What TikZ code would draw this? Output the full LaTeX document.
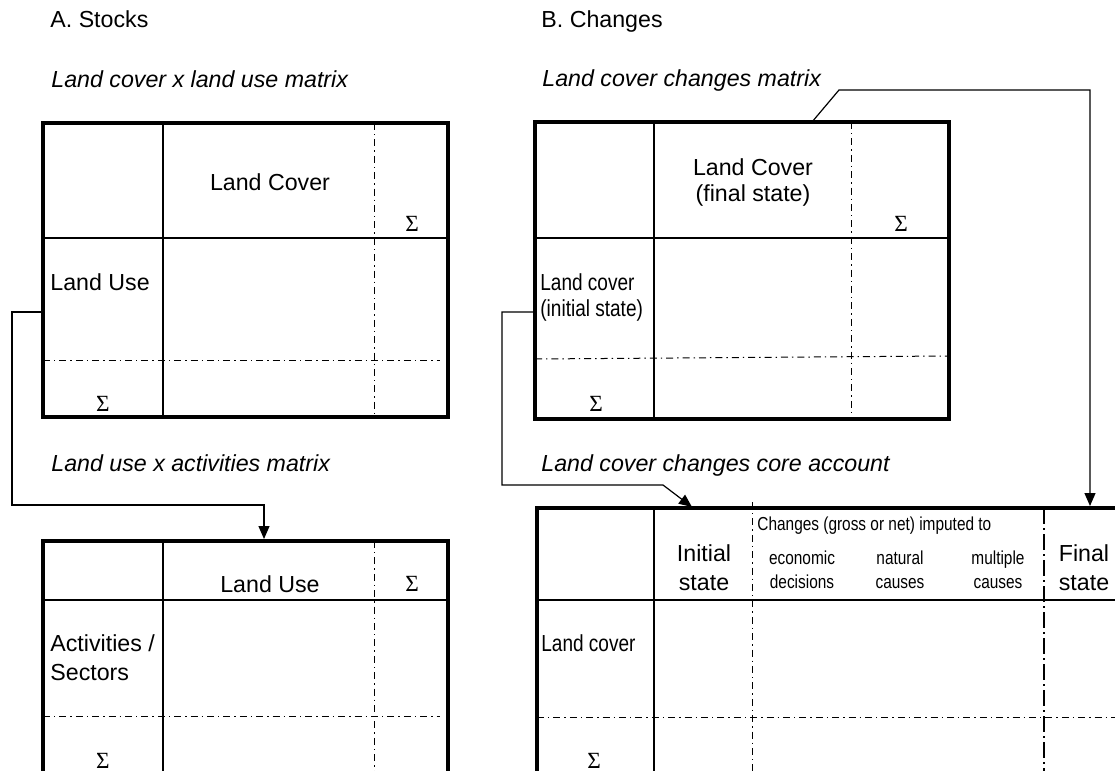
\documentclass[tikz,border=0pt]{standalone}
\usepackage{fontspec}
\setmainfont{Liberation Sans}
\newfontfamily\narrowfont[FakeStretch=0.82]{Liberation Sans}
\newfontfamily\sigmafont{Liberation Serif}
\usetikzlibrary{arrows.meta}
\tikzset{%
	frame/.style      = {line width=2pt, line join=miter},
	rule/.style       = {line width=1.3pt},
	dashdot/.style    = {line width=0.5pt, dash pattern=on 3.5pt off 2pt on 0.7pt off 2pt},
	longdashdot/.style= {line width=0.7pt, dash pattern=on 8pt off 2pt on 1pt off 2pt},
	link/.style       = {line width=0.6pt},
	arrow/.style      = {link, -{Triangle[width=5.5pt,length=6.5pt]}},
	headtxt/.style    = {anchor=base west, inner sep=0pt},
	captxt/.style     = {anchor=base west, inner sep=0pt, font=\fontsize{11.6}{13}\itshape},
	celltxt/.style    = {anchor=base, inner sep=0pt},
	narrowtxt/.style  = {anchor=base west, inner sep=0pt, font=\narrowfont\fontsize{11.6}{13}\selectfont},
	smalltxt/.style   = {anchor=base, inner sep=0pt, font=\narrowfont\fontsize{9.4}{11}\selectfont},
	sumtxt/.style     = {anchor=base, inner sep=0pt, font=\sigmafont\fontsize{11.6}{13}\selectfont},
}
\begin{document}
\begin{tikzpicture}[x=0.5pt,y=-0.5pt,font=\fontsize{11.6}{13}\selectfont]
	\useasboundingbox (0,0) rectangle (1115,771);
	% headings and captions
	\node[headtxt] (hStocks) at (50,27) {A. Stocks};
	\node[headtxt] (hChanges) at (541,27) {B. Changes};
	\node[captxt] (cCoverUse) at (51,87) {Land cover x land use matrix};
	\node[captxt] (cCoverChg) at (542,86) {Land cover changes matrix};
	\node[captxt] (cUseAct) at (51,471) {Land use x activities matrix};
	\node[captxt] (cCore) at (541,471) {Land cover changes core account};
	
	% land cover x land use matrix
	\draw[dashdot] (374,123) -- (374,417);
	\draw[dashdot] (43,360) -- (440,360);
	\draw[rule] (163,123) -- (163,417);
	\draw[rule] (43,238) -- (448,238);
	\draw[frame] (43,123) rectangle (448,417);
	\node[celltxt] (tLandCover) at (270,190) {Land Cover};
	\node[sumtxt] (sA1) at (412,231) {Σ};
	\node[headtxt] (tLandUse) at (50,290) {Land Use};
	\node[sumtxt] (sA2) at (103,411) {Σ};
	
	% land use x activities matrix
	\draw[dashdot] (374,541) -- (374,771);
	\draw[dashdot] (43,716) -- (440,716);
	\draw[rule] (163,541) -- (163,780);
	\draw[rule] (43,600) -- (448,600);
	\draw[frame] (43,780) -- (43,541) -- (448,541) -- (448,780);
	\node[celltxt] (tLandUse2) at (270,592) {Land Use};
	\node[sumtxt] (sA3) at (412,591) {Σ};
	\node[headtxt] (tAct) at (50,651) {Activities /};
	\node[headtxt] (tSect) at (50,680) {Sectors};
	\node[sumtxt] (sA4) at (103,768) {Σ};
	
	% land cover changes matrix
	\draw[dashdot] (851,122) -- (851,419);
	\draw[dashdot] (535,359) -- (949,356);
	\draw[rule] (654,122) -- (654,419);
	\draw[rule] (535,238) -- (949,238);
	\draw[frame] (535,122) rectangle (949,419);
	\node[celltxt] (tFinal1) at (753,175) {Land Cover};
	\node[celltxt] (tFinal2) at (753,201) {(final state)};
	\node[sumtxt] (sB1) at (901,231) {Σ};
	\node[narrowtxt] (tInit1) at (540,290) {Land cover};
	\node[narrowtxt] (tInit2) at (540,316) {(initial state)};
	\node[sumtxt] (sB2) at (596,411) {Σ};
	
	% core account
	\draw[dashdot] (752,502) -- (752,771);
	\draw[longdashdot] (1044,508) -- (1044,771);
	\draw[dashdot] (537,717) -- (1115,717);
	\draw[rule] (654,508) -- (654,780);
	\draw[rule] (537,600) -- (1120,600);
	\draw[frame] (537,780) -- (537,508) -- (1120,508);
	\node[anchor=base west, inner sep=0pt, font=\narrowfont\fontsize{9.4}{11}\selectfont] (tImputed) at (757,530) {Changes (gross or net) imputed to};
	\node[celltxt] (tIs1) at (704,561) {Initial};
	\node[celltxt] (tIs2) at (704,590) {state};
	\node[smalltxt] (tEco1) at (802,564) {economic};
	\node[smalltxt] (tEco2) at (802,588) {decisions};
	\node[smalltxt] (tNat1) at (900,564) {natural};
	\node[smalltxt] (tNat2) at (900,588) {causes};
	\node[smalltxt] (tMul1) at (998,564) {multiple};
	\node[smalltxt] (tMul2) at (998,588) {causes};
	\node[celltxt] (tFs1) at (1084,561) {Final};
	\node[celltxt] (tFs2) at (1084,590) {state};
	\node[narrowtxt] (tLc) at (541,651) {Land cover};
	\node[sumtxt] (sB3) at (594,768) {Σ};
	
	% connectors
	\coordinate (useOut) at (43,312);
	\coordinate (useIn) at (264,539);
	\coordinate (initOut) at (535,312);
	\coordinate (initIn) at (692,507);
	\coordinate (finOut) at (812,122);
	\coordinate (finIn) at (1090,506);
	\draw[arrow] (useOut) -- (12,312) |- (264,505) -- (useIn);
	\draw[arrow] (initOut) -- (502,312) |- (663,485) -- (initIn);
	\draw[arrow] (finOut) -- (839,90) -| (finIn);
\end{tikzpicture}
\end{document}
